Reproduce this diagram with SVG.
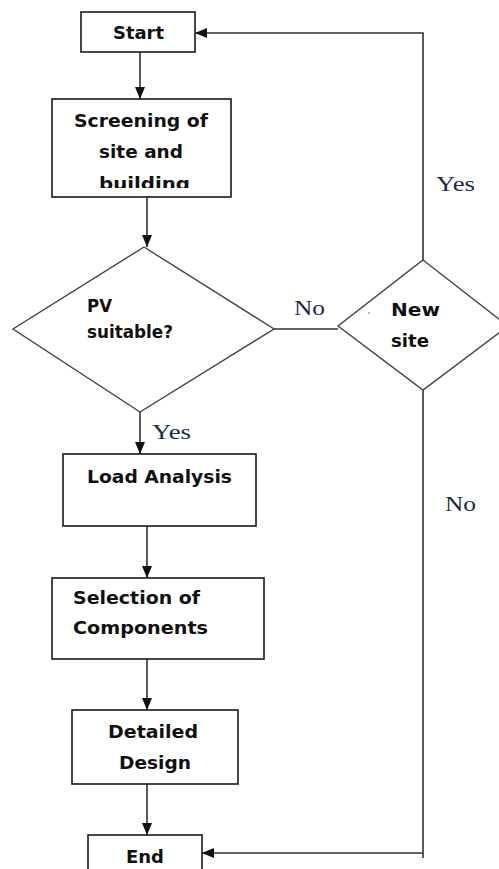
<svg xmlns="http://www.w3.org/2000/svg" width="499" height="869" viewBox="0 0 499 869">
<style>
.box{fill:#fff;stroke:#1a1a1a;stroke-width:1.6}
.dia{fill:#fff;stroke:#444;stroke-width:1.4}
.t{font-family:"DejaVu Sans","Open Sans",sans-serif;font-weight:700;font-size:17.5px;fill:#111}
.lbl{font-family:"Liberation Serif","DejaVu Serif",serif;font-size:21px;fill:#1b2a4e}
.ln{fill:none;stroke:#333;stroke-width:1.6}
</style>
<defs>
<marker id="arr" markerUnits="userSpaceOnUse" markerWidth="12" markerHeight="10" refX="12" refY="5" orient="auto">
<path d="M0,0 L12,5 L0,10 z" fill="#111"/>
</marker>
<clipPath id="clipScr"><rect x="52" y="99" width="179" height="89"/></clipPath>
</defs>
<rect width="499" height="869" fill="#fff"/>
<g id="connectors">
<line class="ln" x1="140" y1="52" x2="140" y2="99" marker-end="url(#arr)"/>
<line class="ln" x1="147" y1="197" x2="147" y2="247" marker-end="url(#arr)"/>
<line class="ln" x1="274" y1="329" x2="338" y2="329"/>
<line class="ln" x1="140" y1="412" x2="140" y2="454" marker-end="url(#arr)"/>
<line class="ln" x1="147" y1="526" x2="147" y2="578" marker-end="url(#arr)"/>
<line class="ln" x1="147" y1="659" x2="147" y2="710" marker-end="url(#arr)"/>
<line class="ln" x1="147" y1="784" x2="147" y2="835" marker-end="url(#arr)"/>
<polyline class="ln" points="423,260 423,33 195,33" marker-end="url(#arr)"/>
<line class="ln" x1="423" y1="390" x2="423" y2="858"/>
<line class="ln" x1="423" y1="853" x2="202" y2="853" marker-end="url(#arr)"/>
<text class="lbl" x="294" y="315" textLength="31" lengthAdjust="spacingAndGlyphs">No</text>
<text class="lbl" x="152" y="439" textLength="39" lengthAdjust="spacingAndGlyphs">Yes</text>
<text class="lbl" x="436" y="191" textLength="39" lengthAdjust="spacingAndGlyphs">Yes</text>
<text class="lbl" x="445" y="511" textLength="31" lengthAdjust="spacingAndGlyphs">No</text>
</g>
<g id="start">
<rect class="box" x="81" y="12" width="114" height="40"/>
<text class="t" x="113" y="39" textLength="51" lengthAdjust="spacingAndGlyphs">Start</text>
</g>
<g id="screening">
<rect class="box" x="52" y="99" width="179" height="98"/>
<g clip-path="url(#clipScr)">
<text class="t" x="74" y="127" textLength="134" lengthAdjust="spacingAndGlyphs">Screening of</text>
<text class="t" x="99" y="158" textLength="84" lengthAdjust="spacingAndGlyphs">site and</text>
<text class="t" x="99" y="190" textLength="91" lengthAdjust="spacingAndGlyphs">building</text>
</g>
</g>
<g id="pv-suitable">
<polygon class="dia" points="144,247 274,329 140,412 13,329"/>
<text class="t" x="87" y="312" textLength="25" lengthAdjust="spacingAndGlyphs">PV</text>
<text class="t" x="87" y="338" textLength="86" lengthAdjust="spacingAndGlyphs">suitable?</text>
</g>
<g id="new-site">
<polygon class="dia" points="423,260 508,326 423,390 338,326"/>
<circle cx="369" cy="313" r="0.8" fill="#666"/>
<text class="t" x="391" y="316" textLength="49" lengthAdjust="spacingAndGlyphs">New</text>
<text class="t" x="391" y="347" textLength="38" lengthAdjust="spacingAndGlyphs">site</text>
</g>
<g id="load-analysis">
<rect class="box" x="63" y="454" width="193" height="72"/>
<text class="t" x="87" y="483" textLength="145" lengthAdjust="spacingAndGlyphs">Load Analysis</text>
</g>
<g id="selection">
<rect class="box" x="52" y="578" width="212" height="81"/>
<text class="t" x="73" y="604" textLength="127" lengthAdjust="spacingAndGlyphs">Selection of</text>
<text class="t" x="73" y="634" textLength="135" lengthAdjust="spacingAndGlyphs">Components</text>
</g>
<g id="detailed-design">
<rect class="box" x="72" y="710" width="166" height="74"/>
<text class="t" x="108" y="738" textLength="90" lengthAdjust="spacingAndGlyphs">Detailed</text>
<text class="t" x="119" y="769" textLength="72" lengthAdjust="spacingAndGlyphs">Design</text>
</g>
<g id="end">
<rect class="box" x="88" y="835" width="114" height="45"/>
<text class="t" x="126" y="863" textLength="38" lengthAdjust="spacingAndGlyphs">End</text>
</g>
</svg>
